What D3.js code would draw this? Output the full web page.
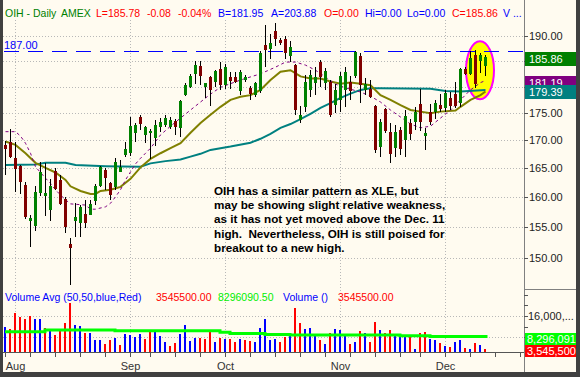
<!DOCTYPE html>
<html>
<head>
<meta charset="utf-8">
<script src="https://cdn.jsdelivr.net/npm/d3@7/dist/d3.min.js"></script>
<style>
  body { margin: 0; background: #fffbf0; }
  svg { display: block; }
  text { font-family: "Liberation Sans", Arial, sans-serif; }
</style>
</head>
<body>
<div id="chart"></div>
<script>
// OHLC, one entry per trading day, Jul 30 .. Dec 13
const opens = [169.2,169.8,166.8,165.4,162.1,156.0,155.2,160.8,160.2,157.9,
  164.5,163.0,159.8,152.3,156.0,155.7,157.2,157.0,159.4,161.9,
  164.7,162.4,161.7,164.4,167.4,167.7,171.4,174.3,171.0,171.4,
  170.4,172.5,172.8,172.5,173.6,172.3,178.4,179.9,182.5,184.1,
  179.9,181.9,181.0,183.4,180.3,181.8,181.8,179.1,181.3,179.7,
  178.4,179.1,188.2,187.3,191.1,189.2,189.3,185.9,184.2,173.7,
  176.2,179.4,180.7,184.9,180.8,181.0,176.5,177.5,179.4,181.0,
  182.1,186.0,179.3,179.5,176.4,168.9,175.7,171.6,168.6,171.9,
  170.1,173.1,173.4,176.7,170.8,175.3,175.3,176.5,175.9,177.9,
  178.6,176.9,183.5,182.5,186.2,185.1,184.0];
const highs = [169.9,172.0,169.8,165.6,162.7,157.0,161.9,166.2,165.9,163.1,
  165.0,163.9,160.1,153.2,159.0,158.7,159.6,159.6,162.3,165.4,
  165.0,162.7,166.8,166.5,169.8,174.3,173.1,174.7,172.6,172.1,
  173.7,174.1,174.6,174.3,173.9,177.5,180.8,182.4,185.0,185.0,
  180.8,182.0,183.2,184.9,184.4,182.9,182.9,183.2,182.3,180.1,
  181.0,186.9,192.2,190.5,192.7,189.5,189.9,188.9,184.5,176.4,
  182.3,183.2,183.9,185.2,183.6,181.3,180.6,182.9,183.9,182.0,
  186.9,186.5,181.7,181.3,176.6,174.0,175.9,173.1,172.8,172.4,
  175.6,174.0,176.2,179.5,172.2,176.7,177.5,178.7,179.4,179.0,
  181.0,183.7,183.9,186.9,187.1,186.6,186.2];
const lows = [163.9,166.9,161.0,160.6,156.3,151.8,154.4,160.2,156.9,156.1,
  161.3,158.7,154.0,145.7,153.4,153.4,154.8,157.0,158.7,161.7,
  161.3,159.6,161.3,164.3,167.1,167.2,169.8,171.9,169.5,166.7,
  169.0,171.6,172.4,172.1,171.0,170.7,178.3,179.7,180.5,180.4,
  177.9,176.3,180.0,179.4,179.5,179.5,180.7,178.4,181.0,177.5,
  178.1,178.8,183.9,185.5,187.9,188.2,185.5,184.9,174.7,173.1,
  175.3,178.1,178.4,179.9,179.4,174.3,175.0,175.3,176.2,177.5,
  181.6,177.0,178.4,177.8,167.7,167.1,171.3,165.9,167.1,167.4,
  167.1,170.1,171.9,171.8,168.3,172.8,174.0,175.3,175.3,175.6,
  175.9,176.2,182.3,182.3,179.7,182.6,182.1];
const closes = [168.5,167.1,164.9,162.7,156.7,156.6,161.0,164.4,160.7,161.9,
  161.4,158.9,155.0,151.6,156.7,158.3,155.7,158.9,161.9,165.3,
  163.3,160.4,166.2,165.3,168.4,172.6,172.8,173.0,172.5,171.8,
  172.8,173.3,174.1,173.8,172.4,177.3,180.3,182.1,184.2,182.0,
  180.75,179.4,183.0,180.3,183.9,181.2,181.0,182.9,181.8,178.7,
  180.8,186.5,187.1,188.6,189.3,188.5,186.5,187.8,175.6,174.7,
  181.0,182.3,181.8,181.8,183.1,174.7,179.4,182.1,182.8,179.1,
  186.8,180.3,180.6,178.1,168.2,173.4,171.8,167.6,171.6,168.4,
  174.5,171.2,175.3,173.4,171.3,173.4,176.9,175.8,178.9,176.4,
  176.4,183.5,182.5,185.6,180.5,186.2,185.86];

// volume in millions, and whether the bar is an up (blue) day
const volumes = [12.0,11.1,17.3,15.8,14.9,16.1,14.9,14.9,11.4,10.8,
  8.9,10.8,13.5,21.0,12.6,12.3,9.7,9.5,7.0,7.0,
  5.5,7.0,7.6,5.1,9.2,8.9,8.2,9.2,7.3,10.1,
  10.8,8.5,6.4,4.7,6.0,9.2,12.6,6.6,7.6,7.6,
  7.3,10.1,6.4,7.6,7.3,7.3,6.4,7.3,7.0,6.7,
  6.4,11.6,14.8,7.0,7.4,6.4,8.2,8.9,18.9,13.5,
  11.1,11.6,9.2,7.0,5.5,9.7,11.1,10.8,9.2,5.5,
  6.4,10.5,9.7,6.4,13.9,10.8,9.5,10.8,8.9,8.0,
  8.5,8.2,3.5,9.5,10.1,7.3,7.0,6.0,4.7,4.5,
  6.4,7.0,4.1,3.6,5.8,5.1,3.5455];
const volUp = [1,0,0,0,0,0,1,1,0,1, 0,0,0,0,1,1,0,1,1,1,
  0,0,1,0,1,1,1,1,0,0, 1,1,1,0,0,1,1,1,1,0,
  0,0,1,0,1,0,0,1,0,0, 1,1,1,1,1,0,0,1,0,0,
  1,1,1,0,1,0,1,1,1,0, 1,0,1,0,0,1,0,0,1,1,
  1,0,1,0,0,1,1,0,1,0, 1,1,0,1,0,1,0];

// moving averages: [bar index, value]
const ma50 = [[0,165.6],[6,165.7],[8,166.0],[12,166.0],[14,165.6],[20,165.4],[27,165.3],
  [29,165.9],[32,166.3],[35,166.6],[37,167.1],[39,167.6],[41,168.3],[45,168.9],[49,169.6],
  [51,170.3],[53,171.2],[55,172.3],[57,173.0],[59,173.9],[61,174.9],[63,176.0],[65,176.9],
  [67,177.9],[69,178.7],[71,179.4],[73,179.7],[75,179.7],[85,179.6],[88,179.2],[91,179.1],[96,179.39]];
const ma20 = [[0,169.8],[2,169.2],[4,167.7],[6,166.0],[8,165.1],[10,164.3],[12,163.0],[13,161.9],
  [15,161.1],[17,160.6],[18,160.6],[19,161.1],[21,161.3],[23,161.8],[25,163.2],[27,165.2],
  [29,166.7],[31,167.7],[33,168.6],[35,169.5],[37,171.4],[39,173.2],[41,174.7],[43,176.2],
  [45,177.5],[47,178.1],[49,178.4],[51,179.4],[53,181.3],[55,182.9],[57,183.2],[59,182.0],
  [61,181.6],[63,181.6],[65,181.0],[67,180.6],[69,180.8],[71,180.6],[73,180.3],[75,178.4],
  [77,177.5],[79,176.5],[81,175.6],[83,175.3],[85,175.0],[87,175.3],[90,175.5],[91,176.2],
  [93,177.5],[95,178.4],[96,179.1]];
const ma10 = [[0,171.6],[2,171.6],[3,170.8],[4,169.5],[5,167.7],[6,165.3],[8,163.3],[9,162.4],
  [10,161.3],[11,160.4],[12,159.6],[13,158.9],[16,158.7],[17,158.0],[18,158.0],[20,158.4],
  [21,159.0],[22,160.1],[23,161.3],[24,163.0],[25,164.4],[26,165.8],[27,166.8],[28,167.7],
  [29,168.6],[31,171.0],[33,172.6],[35,174.1],[37,175.6],[39,177.1],[41,178.6],[43,179.9],
  [47,181.3],[51,182.5],[54,183.8],[56,184.8],[58,184.8],[60,184.2],[62,183.2],[64,181.9],
  [66,180.5],[68,179.8],[71,179.0],[73,178.2],[75,177.1],[77,175.6],[79,174.3],[81,173.0],
  [83,172.3],[85,172.6],[87,174.1],[89,175.6],[91,177.5],[93,179.4],[95,180.8],[96,181.19]];
const volAvg = [[0,10.1],[8,10.75],[22,10.5],[43,9.9],[45,9.5],[52,9.1],[57,8.9],
  [79,8.6],[85,8.3],[96.5,8.3]];

// axis ticks and labels
const priceTicks = [150,155,160,165,170,175,180,185,190];
const volTicks = [8,12,16,20,24];
const volGrid = [8,16];
const weekTicks = [0,5,10,15,20,25,29,34,39,44,49,54,59,64,69,74,79,83,88,93,98,103];
const months = ["Aug","Sep","Oct","Nov","Dec"];
const monthStart = [2,25,44,67,88];
const refLevel = 187;
const priceTags = [185.86, 181.19, 179.39];
const volTags = [8.296091, 3.5455];
const volTagText = ["8,296,091", "3,545,500"];
const headerText = ["OIH - Daily","AMEX","L=185.78","-0.08","-0.04%","B=181.95",
  "A=203.88","O=0.00","Hi=0.00","Lo=0.00","C=185.86","V ..."];
const volLegend = ["Volume Avg (50,50,blue,Red)","3545500.00","8296090.50","Volume ()","3545500.00"];
const note = ["OIH has a similar pattern as XLE, but",
  "may be showing slight relative weakness,",
  "as it has not yet moved above the Dec. 11",
  "high.  Nevertheless, OIH is still poised for",
  "breakout to a new high."];

const W = 580, H = 377;
const plotR = 524, volBottom = 352, volTop = 289;

const svg = d3.select("#chart").append("svg")
  .attr("width", W).attr("height", H);

svg.append("rect").attr("width", W).attr("height", H).attr("fill", "#fffbf0");

const x = d3.scaleLinear().domain([0, 103]).range([5, 520]);
const y = d3.scaleLog().domain([150, 190]).range([258, 36]);
const yv = d3.scaleLinear().domain([2.5, 26.2]).range([volBottom, volTop]);

const px = i => Math.round(x(i));
const py = v => Math.round(y(v));

// dotted grid
const grid = svg.append("g").attr("stroke", "#b8b8b8").attr("stroke-dasharray", "1,2");
priceTicks.forEach(t => {
  grid.append("line").attr("x1", 3).attr("x2", plotR)
    .attr("y1", py(t) + 0.5).attr("y2", py(t) + 0.5);
});
volGrid.forEach(t => {
  const yy = Math.round(yv(t)) + 0.5;
  grid.append("line").attr("x1", 3).attr("x2", plotR).attr("y1", yy).attr("y2", yy);
});
monthStart.forEach(i => {
  grid.append("line").attr("x1", px(i) + 0.5).attr("x2", px(i) + 0.5)
    .attr("y1", 20).attr("y2", volBottom);
});

// highlight ellipse around the last few bars
svg.append("ellipse")
  .attr("cx", x(95)).attr("cy", y(183.2))
  .attr("rx", 14).attr("ry", 29)
  .attr("fill", "#ffff00").attr("stroke", "#ff00ff").attr("stroke-width", 2);

// 187 resistance line
svg.append("line")
  .attr("x1", 4).attr("x2", plotR)
  .attr("y1", py(refLevel) + 0.5).attr("y2", py(refLevel) + 0.5)
  .attr("stroke", "#0000ff").attr("stroke-dasharray", "15,9");
svg.append("text").attr("x", 4).attr("y", py(refLevel) - 2)
  .attr("font-size", 11).attr("fill", "#0000ff").text(refLevel.toFixed(2));

// moving averages
const maLine = d3.line().x(d => x(d[0]) + 0.5).y(d => y(d[1]));
svg.append("path").datum(ma50).attr("d", maLine)
  .attr("fill", "none").attr("stroke", "#008080").attr("stroke-width", 2);
svg.append("path").datum(ma20).attr("d", maLine)
  .attr("fill", "none").attr("stroke", "#808000").attr("stroke-width", 2);
svg.append("path").datum(ma10).attr("d", maLine)
  .attr("fill", "none").attr("stroke", "#800080").attr("stroke-width", 1)
  .attr("stroke-dasharray", "3,3");

// candles
const bars = d3.range(opens.length);
const candles = svg.append("g");
candles.selectAll("rect.wick").data(bars).join("rect")
  .attr("class", "wick")
  .attr("x", i => px(i)).attr("width", 1)
  .attr("y", i => py(highs[i]))
  .attr("height", i => Math.max(1, py(lows[i]) - py(highs[i])))
  .attr("fill", "#000");
candles.selectAll("rect.body").data(bars).join("rect")
  .attr("class", "body")
  .attr("x", i => px(i) - 1).attr("width", 3)
  .attr("y", i => py(Math.max(opens[i], closes[i])))
  .attr("height", i => Math.max(1, py(Math.min(opens[i], closes[i])) - py(Math.max(opens[i], closes[i]))))
  .attr("fill", i => closes[i] >= opens[i] ? "#008000" : "#800000");

// volume bars
svg.append("g").selectAll("rect").data(bars).join("rect")
  .attr("x", i => px(i) - 1).attr("width", 2)
  .attr("y", i => Math.round(yv(volumes[i])))
  .attr("height", i => volBottom - Math.round(yv(volumes[i])))
  .attr("fill", i => volUp[i] ? "#0000ff" : "#ff0000");

svg.append("path").datum(volAvg)
  .attr("d", d3.line().x(d => x(d[0])).y(d => yv(d[1])).curve(d3.curveStepAfter))
  .attr("fill", "none").attr("stroke", "#00ff00").attr("stroke-width", 3);

// header
const headerX = [5, 61, 96, 147, 178, 218, 271, 324, 365, 407, 452, 503];
const headerCol = ["#008000","#008000","#ff0000","#ff0000","#ff0000","#0000ff",
  "#0000ff","#ff0000","#0000ff","#0000ff","#ff0000","#0000ff"];
headerText.forEach((t, k) => {
  svg.append("text").attr("x", headerX[k]).attr("y", 16.5)
    .attr("font-size", 10.5).attr("fill", headerCol[k]).text(t);
});

// volume legend
const legX = [5, 156, 218, 283, 338];
const legCol = ["#0000ff", "#ff0000", "#00ee00", "#0000ff", "#ff0000"];
volLegend.forEach((t, k) => {
  svg.append("text").attr("x", legX[k]).attr("y", 301)
    .attr("font-size", 10.5).attr("fill", legCol[k]).text(t);
});

// annotation
note.forEach((t, k) => {
  svg.append("text").attr("x", 214).attr("y", 195 + k * 14.2)
    .attr("font-size", 11.7).attr("font-weight", "bold").attr("fill", "#000")
    .style("white-space", "pre").text(t);
});

// bottom time axis
svg.append("line").attr("x1", 3).attr("x2", plotR)
  .attr("y1", volBottom + 0.5).attr("y2", volBottom + 0.5).attr("stroke", "#555");
weekTicks.forEach(i => {
  svg.append("line").attr("x1", px(i) + 0.5).attr("x2", px(i) + 0.5)
    .attr("y1", volBottom).attr("y2", volBottom + 5).attr("stroke", "#555");
});
months.forEach((m, k) => {
  svg.append("text").attr("x", x(monthStart[k]) + 0.5).attr("y", 369.5)
    .attr("text-anchor", "middle").attr("font-size", 11).attr("fill", "#333").text(m);
});

// right axis
svg.append("line").attr("x1", plotR + 0.5).attr("x2", plotR + 0.5)
  .attr("y1", 0).attr("y2", 372).attr("stroke", "#808080");
svg.append("line").attr("x1", plotR).attr("x2", 576)
  .attr("y1", volTop + 0.5).attr("y2", volTop + 0.5).attr("stroke", "#808080");
priceTicks.forEach(t => {
  svg.append("line").attr("x1", plotR).attr("x2", plotR + 4)
    .attr("y1", py(t) + 0.5).attr("y2", py(t) + 0.5).attr("stroke", "#555");
  // labels that sit under a value tag are hidden, as in the source chart
  const covered = priceTags.some(v => Math.abs(y(v) + 2 - y(t)) < 10);
  if (!covered) {
    svg.append("text").attr("x", 529).attr("y", py(t) + 4)
      .attr("font-size", 11).attr("fill", "#222").text(t.toFixed(2));
  }
});
volTicks.forEach(t => {
  const yy = Math.round(yv(t)) + 0.5;
  svg.append("line").attr("x1", plotR).attr("x2", plotR + 4)
    .attr("y1", yy).attr("y2", yy).attr("stroke", "#555");
});
svg.append("text").attr("x", 528).attr("y", Math.round(yv(16)) + 4)
  .attr("font-size", 11).attr("fill", "#222").text("16,000,...");

// value tags
const tagCol = ["#008000", "#800080", "#008080"];
priceTags.forEach((v, k) => {
  const cy = y(v) + 2;
  svg.append("rect").attr("x", plotR + 1).attr("y", Math.round(cy - 7))
    .attr("width", 576 - plotR - 1).attr("height", 14).attr("fill", tagCol[k]);
  svg.append("text").attr("x", 529).attr("y", Math.round(cy + 4))
    .attr("font-size", 11).attr("fill", "#fff").text(v.toFixed(2));
});
const volTagCol = ["#00ff00", "#ff0000"];
volTags.forEach((v, k) => {
  const cy = yv(v) + 2;
  svg.append("rect").attr("x", plotR + 1).attr("y", Math.round(cy - 6))
    .attr("width", 576 - plotR - 1).attr("height", 12).attr("fill", volTagCol[k]);
  svg.append("text").attr("x", 527).attr("y", Math.round(cy + 4))
    .attr("font-size", 11).attr("fill", "#fff").text(volTagText[k]);
});

// window frame
svg.append("rect").attr("x", 0).attr("y", 0).attr("width", 3).attr("height", H).attr("fill", "#404040");
svg.append("rect").attr("x", 576).attr("y", 0).attr("width", 4).attr("height", H).attr("fill", "#404040");
svg.append("rect").attr("x", 0).attr("y", 372).attr("width", W).attr("height", 5).attr("fill", "#404040");
</script>
</body>
</html>
